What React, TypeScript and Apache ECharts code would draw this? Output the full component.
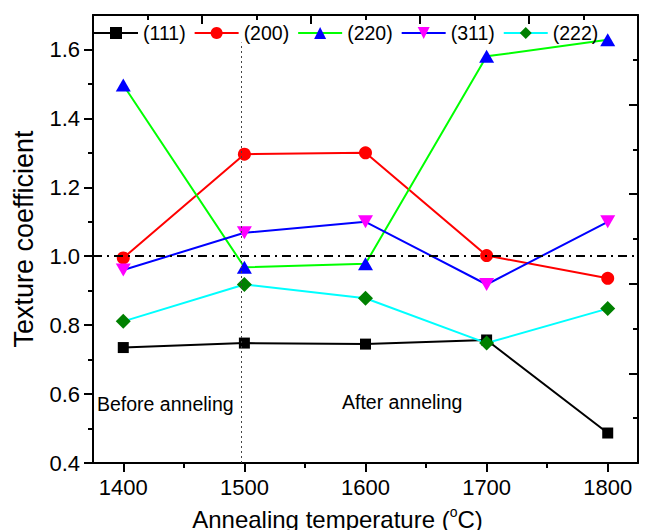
import { useEffect, useRef } from 'react';
import * as echarts from 'echarts';

// Annealing temperatures (°C)
const temperatures = [1400, 1500, 1600, 1700, 1800];

// Texture coefficients per reflection
const tc111 = [0.735, 0.748, 0.745, 0.757, 0.487];
const tc200 = [0.995, 1.296, 1.300, 1.002, 0.936];
const tc220 = [1.497, 0.968, 0.978, 1.580, 1.628];
const tc311 = [0.960, 1.068, 1.100, 0.918, 1.100];
const tc222 = [0.811, 0.918, 0.878, 0.748, 0.848];

const seriesNames = ['(111)', '(200)', '(220)', '(311)', '(222)'];
const seriesValues = [tc111, tc200, tc220, tc311, tc222];

// Axis ticks
const xTicks = [1400, 1500, 1600, 1700, 1800];
const xMinorTicks = [1450, 1550, 1650, 1750];
const yTicks = [0.4, 0.6, 0.8, 1.0, 1.2, 1.4, 1.6];
const yMinorTicks = [0.5, 0.7, 0.9, 1.1, 1.3, 1.5];

// Reference line and the before/after boundary
const referenceTC = 1.0;
const boundaryTemp = 1497;
const boundaryTop = 1.62;

const FONT = "'Liberation Sans', Arial, Helvetica, sans-serif";

const looks = [
  { line: '#000000', marker: '#000000', symbol: 'rect', size: 11, rotate: 0 },
  { line: '#ff0000', marker: '#ff0000', symbol: 'circle', size: 13, rotate: 0 },
  { line: '#00ff00', marker: '#0000ff', symbol: 'triangle', size: [15, 13], rotate: 0 },
  { line: '#0000ff', marker: '#ff00ff', symbol: 'triangle', size: [15, 13], rotate: 180 },
  { line: '#00ffff', marker: '#008000', symbol: 'diamond', size: 15, rotate: 0 },
];

export default function App() {
  const ref = useRef<HTMLDivElement>(null);

  useEffect(() => {
    if (!ref.current) return;
    const chart = echarts.init(ref.current, null, { renderer: 'svg' });

    const axisLine = { show: true, lineStyle: { color: '#000', width: 2 } };

    const series: any[] = seriesNames.map((name, i) => ({
      name,
      type: 'line',
      xAxisIndex: 0,
      yAxisIndex: 0,
      data: temperatures.map((t, j) => [t, seriesValues[i][j]]),
      symbol: looks[i].symbol,
      symbolSize: looks[i].size,
      symbolRotate: looks[i].rotate,
      showAllSymbol: true,
      lineStyle: { color: looks[i].line, width: 2 },
      itemStyle: { color: looks[i].marker, borderWidth: 0 },
      emphasis: { disabled: true },
      z: 3,
    }));

    series[0].markLine = {
      silent: true,
      symbol: 'none',
      label: { show: false },
      animation: false,
      data: [
        {
          yAxis: referenceTC,
          lineStyle: { color: '#000', width: 2, type: [9, 5, 2, 5] },
        },
        [
          { coord: [boundaryTemp, 0.4], lineStyle: { color: '#444', width: 1, type: [2, 3] } },
          { coord: [boundaryTemp, boundaryTop] },
        ],
      ],
    };

    chart.setOption({
      animation: false,
      textStyle: { fontFamily: FONT },
      grid: { left: 93, right: 11, top: 15, bottom: 67, containLabel: false, outerBoundsMode: 'none' },
      legend: {
        data: seriesNames,
        left: 93,
        top: 23,
        padding: 0,
        itemWidth: 44,
        itemHeight: 15,
        itemGap: 8,
        selectedMode: false,
        textStyle: { fontSize: 19.5, color: '#000', fontFamily: FONT },
      },
      xAxis: [
        {
          type: 'value',
          position: 'bottom',
          min: 1375,
          max: 1825,
          name: 'Annealing temperature ({sup|o}C)',
          nameLocation: 'middle',
          nameGap: 42,
          nameTextStyle: {
            fontSize: 24,
            color: '#000',
            fontFamily: FONT,
            lineHeight: 28,
            padding: [0, 56, 0, 0],
            rich: {
              sup: { fontSize: 14, verticalAlign: 'top', lineHeight: 28, color: '#000', fontFamily: FONT },
            },
          },
          axisLine,
          axisTick: { show: true, inside: false, length: 9, customValues: xTicks, lineStyle: { color: '#000', width: 2 } },
          axisLabel: {
            show: true,
            customValues: xTicks,
            fontSize: 22,
            color: '#000',
            margin: 13,
            fontFamily: FONT,
            formatter: (v: number) => String(v),
          },
          splitLine: { show: false },
        },
        {
          type: 'value',
          position: 'bottom',
          min: 1375,
          max: 1825,
          axisLine: { show: false },
          axisTick: { show: true, inside: false, length: 5, customValues: xMinorTicks, lineStyle: { color: '#000', width: 2 } },
          axisLabel: { show: false },
          splitLine: { show: false },
        },
        {
          type: 'value',
          position: 'top',
          min: 0,
          max: 10,
          interval: 2,
          axisLine,
          axisTick: { show: true, inside: true, length: 9, lineStyle: { color: '#000', width: 2 } },
          minorTick: { show: true, splitNumber: 2, length: 5, lineStyle: { color: '#000', width: 2 } },
          axisLabel: { show: false },
          splitLine: { show: false },
        },
      ],
      yAxis: [
        {
          type: 'value',
          position: 'left',
          min: 0.4,
          max: 1.7,
          name: 'Texture coefficient',
          nameLocation: 'middle',
          nameGap: 56,
          nameTextStyle: { fontSize: 27, color: '#000', fontFamily: FONT },
          axisLine,
          axisTick: { show: true, inside: false, length: 9, customValues: yTicks, lineStyle: { color: '#000', width: 2 } },
          axisLabel: {
            show: true,
            customValues: yTicks,
            fontSize: 22,
            color: '#000',
            margin: 13,
            fontFamily: FONT,
            formatter: (v: number) => v.toFixed(1),
          },
          splitLine: { show: false },
        },
        {
          type: 'value',
          position: 'left',
          min: 0.4,
          max: 1.7,
          axisLine: { show: false },
          axisTick: { show: true, inside: false, length: 5, customValues: yMinorTicks, lineStyle: { color: '#000', width: 2 } },
          axisLabel: { show: false },
          splitLine: { show: false },
        },
        {
          type: 'value',
          position: 'right',
          min: 0,
          max: 10,
          interval: 2,
          axisLine,
          axisTick: { show: true, inside: true, length: 9, lineStyle: { color: '#000', width: 2 } },
          minorTick: { show: true, splitNumber: 2, length: 5, lineStyle: { color: '#000', width: 2 } },
          axisLabel: { show: false },
          splitLine: { show: false },
        },
      ],
      graphic: [
        {
          type: 'text',
          left: 97,
          top: 394,
          silent: true,
          style: { text: 'Before anneling', fontSize: 19.5, fill: '#000', fontFamily: FONT },
        },
        {
          type: 'text',
          left: 342,
          top: 392,
          silent: true,
          style: { text: 'After anneling', fontSize: 19.5, fill: '#000', fontFamily: FONT },
        },
      ],
      series,
    });

    return () => chart.dispose();
  }, []);

  return (
    <div
      ref={ref}
      style={{ position: 'fixed', left: 0, top: 0, width: 649, height: 530, background: '#fff' }}
    />
  );
}
